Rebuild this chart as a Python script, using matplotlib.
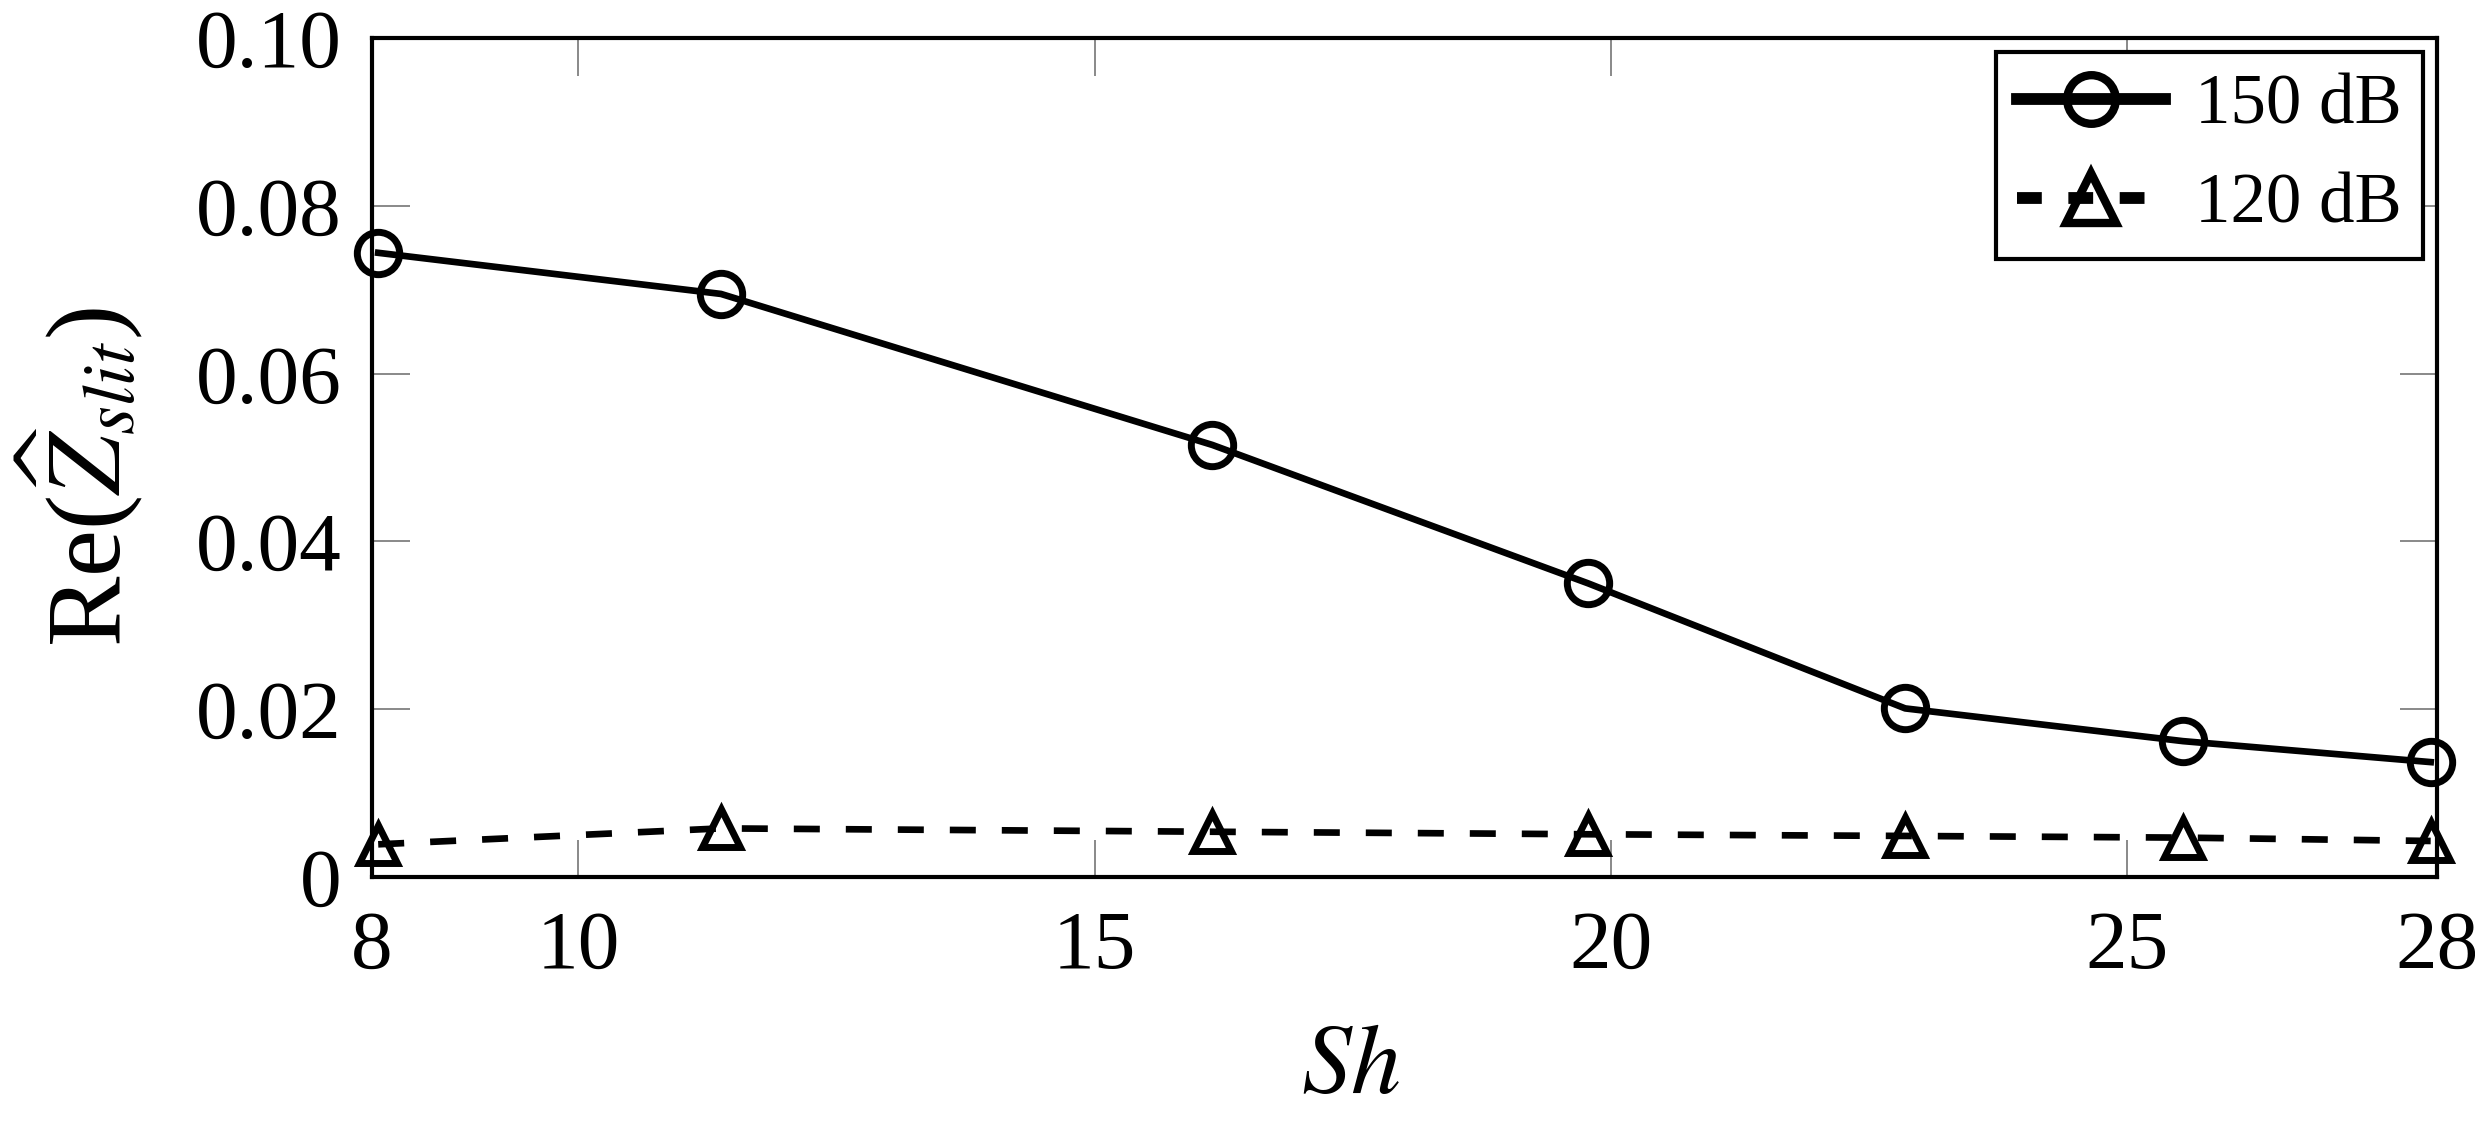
import matplotlib
matplotlib.use("Agg")
import matplotlib.pyplot as plt

sh = [8.06, 11.38, 16.14, 19.78, 22.85, 25.54, 27.94]
re_150 = [0.0744, 0.0695, 0.0515, 0.0350, 0.0201, 0.0162, 0.0137]
re_120 = [0.0039, 0.0058, 0.0054, 0.0051, 0.0049, 0.0047, 0.0043]
labels = ["150 dB", "120 dB"]
xticks = [8, 10, 15, 20, 25, 28]
yticks = [0, 0.02, 0.04, 0.06, 0.08, 0.10]
yticklabels = ["0", "0.02", "0.04", "0.06", "0.08", "0.10"]

plt.rcParams['font.family'] = ['Liberation Serif', 'DejaVu Serif']
plt.rcParams['mathtext.fontset'] = 'stix'

fig = plt.figure(figsize=(24.75, 11.25), dpi=100)
ax = fig.add_axes([0.1503, 0.2204, 0.8343, 0.7458])

ax.plot(sh, re_150, color='black', lw=4.8, marker='o', markersize=30.5,
        markerfacecolor='none', markeredgewidth=5.0, label=labels[0], clip_on=False, zorder=3)
ax.plot(sh, re_120, color='black', lw=4.8, marker='^', markersize=28,
        markerfacecolor='none', markeredgewidth=5.0, dashes=(3.9, 3.9),
        label=labels[1], clip_on=False, zorder=3)

ax.set_xlim(8, 28)
ax.set_ylim(0, 0.10)
ax.set_xticks(xticks)
ax.set_xticklabels([str(t) for t in xticks])
ax.set_yticks(yticks)
ax.set_yticklabels(yticklabels)

ax.tick_params(direction='in', length=27, width=1.3, color='#808080',
               top=True, right=True, labelsize=60)
ax.tick_params(axis='x', pad=24)
ax.tick_params(axis='y', pad=22)
for s in ax.spines.values():
    s.set_linewidth(3.0)
    s.set_color('black')

ax.set_xlabel(r"$Sh$", fontsize=72)
ax.set_ylabel(r"Re($\widehat{Z}_{slit}$)", fontsize=76)
ax.xaxis.set_label_coords(0.474, -0.175)
ax.yaxis.set_label_coords(-0.11, 0.477)

leg = ax.legend(loc='upper right', fontsize=51, frameon=True, fancybox=False,
                edgecolor='black', framealpha=1, handlelength=2.09,
                borderpad=0.3, labelspacing=0.48, handletextpad=0.42,
                borderaxespad=0.2)
leg.get_frame().set_linewidth(3.0)
hl = leg.get_lines()
hl[0].set_linewidth(8.5)
hl[0].set_markersize(35)
hl[0].set_markeredgewidth(6.0)
hl[1].set_linewidth(8.5)
hl[1].set_dashes((2.1, 2.25))
hl[1].set_markersize(36)
hl[1].set_markeredgewidth(6.0)

fig.savefig("out.png", dpi=100)
